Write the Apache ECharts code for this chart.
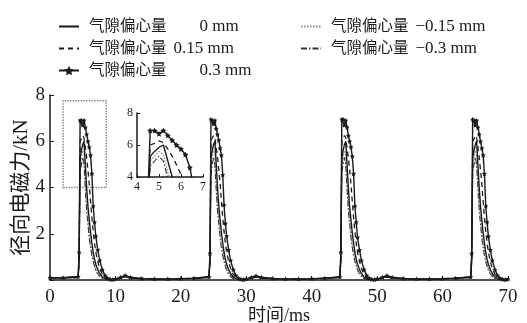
<!DOCTYPE html>
<html>
<head>
<meta charset="utf-8">
<script src="https://cdn.jsdelivr.net/npm/echarts@6/dist/echarts.min.js"></script>
<style>
  html, body { margin: 0; padding: 0; background: #fff; }
  #chart { width: 527px; height: 323px; }
</style>
</head>
<body>
<div id="chart"></div>
<script>
// Time samples (ms), shared by every curve
const timeMs = [
  0, 2, 4.3, 4.45, 4.6, 4.8, 5.0, 5.2, 5.4, 5.6, 5.8, 6.0, 6.2, 6.4, 6.6, 6.8, 7.0, 7.3, 7.6, 8.0, 8.4, 8.8, 9.2, 9.6, 10.0, 10.8, 11.5, 12.3, 14, 16, 18,
  20, 22, 24.3, 24.45, 24.6, 24.8, 25.0, 25.2, 25.4, 25.6, 25.8, 26.0, 26.2, 26.4, 26.6, 26.8, 27.0, 27.3, 27.6, 28.0, 28.4, 28.8, 29.2, 29.6, 30.0, 30.8, 31.5, 32.3, 34, 36, 38,
  40, 42, 44.3, 44.45, 44.6, 44.8, 45.0, 45.2, 45.4, 45.6, 45.8, 46.0, 46.2, 46.4, 46.6, 46.8, 47.0, 47.3, 47.6, 48.0, 48.4, 48.8, 49.2, 49.6, 50.0, 50.8, 51.5, 52.3, 54, 56, 58,
  60, 62, 64.3, 64.45, 64.6, 64.8, 65.0, 65.2, 65.4, 65.6, 65.8, 66.0, 66.2, 66.4, 66.6, 66.8, 67.0, 67.3, 67.6, 68.0, 68.4, 68.8, 69.2, 69.6, 70.0
];

// Radial electromagnetic force (kN) for each air-gap eccentricity
const force0 = [
  0.10, 0.10, 0.12, 0.90, 5.30, 5.60, 5.85, 6.00, 5.00, 4.00, 3.20, 2.60, 2.05, 1.60, 1.20, 0.90, 0.68, 0.45, 0.28, 0.13, 0.06, 0.02, 0.01, 0.01, 0.03, 0.09, 0.16, 0.09, 0.05, 0.04, 0.04,
  0.05, 0.07, 0.12, 0.85, 5.30, 5.60, 5.85, 6.00, 5.05, 4.00, 3.20, 2.60, 2.05, 1.60, 1.20, 0.90, 0.68, 0.45, 0.28, 0.13, 0.06, 0.02, 0.01, 0.01, 0.03, 0.09, 0.15, 0.09, 0.05, 0.04, 0.04,
  0.05, 0.07, 0.12, 0.90, 5.25, 5.60, 5.85, 6.00, 5.00, 4.00, 3.15, 2.60, 2.05, 1.60, 1.20, 0.90, 0.68, 0.45, 0.28, 0.13, 0.06, 0.02, 0.01, 0.01, 0.03, 0.09, 0.16, 0.09, 0.05, 0.04, 0.04,
  0.05, 0.07, 0.12, 0.85, 5.30, 5.60, 5.85, 6.00, 5.00, 4.00, 3.20, 2.60, 2.05, 1.60, 1.20, 0.90, 0.68, 0.45, 0.28, 0.13, 0.06, 0.02, 0.01, 0.01, 0.03
];
const forceP015 = [
  0.10, 0.10, 0.13, 1.00, 6.00, 6.10, 6.25, 6.15, 5.75, 5.30, 4.75, 4.15, 3.40, 2.70, 2.10, 1.60, 1.20, 0.80, 0.50, 0.25, 0.10, 0.04, 0.02, 0.02, 0.04, 0.10, 0.17, 0.10, 0.06, 0.04, 0.05,
  0.05, 0.08, 0.13, 0.95, 6.05, 6.10, 6.25, 6.15, 5.75, 5.30, 4.75, 4.15, 3.40, 2.70, 2.10, 1.60, 1.20, 0.80, 0.50, 0.25, 0.10, 0.04, 0.02, 0.02, 0.04, 0.10, 0.16, 0.10, 0.06, 0.04, 0.05,
  0.05, 0.08, 0.13, 1.00, 6.00, 6.10, 6.25, 6.15, 5.70, 5.30, 4.75, 4.15, 3.40, 2.70, 2.10, 1.60, 1.20, 0.80, 0.50, 0.25, 0.10, 0.04, 0.02, 0.02, 0.04, 0.10, 0.17, 0.10, 0.06, 0.04, 0.05,
  0.05, 0.08, 0.13, 0.95, 6.00, 6.10, 6.25, 6.15, 5.75, 5.30, 4.75, 4.15, 3.40, 2.70, 2.10, 1.60, 1.20, 0.80, 0.50, 0.25, 0.10, 0.04, 0.02, 0.02, 0.04
];
const forceP03 = [
  0.10, 0.10, 0.15, 1.20, 6.90, 6.90, 6.70, 6.90, 6.60, 6.30, 6.00, 5.75, 5.40, 4.60, 3.20, 2.50, 1.90, 1.30, 0.85, 0.45, 0.20, 0.08, 0.03, 0.02, 0.05, 0.12, 0.20, 0.12, 0.07, 0.05, 0.05,
  0.06, 0.08, 0.14, 1.15, 6.95, 6.90, 6.75, 6.90, 6.55, 6.30, 6.05, 5.70, 5.40, 4.55, 3.25, 2.45, 1.90, 1.30, 0.85, 0.45, 0.20, 0.08, 0.03, 0.02, 0.05, 0.12, 0.18, 0.12, 0.07, 0.05, 0.05,
  0.06, 0.08, 0.14, 1.20, 6.95, 6.95, 6.70, 6.90, 6.60, 6.25, 6.00, 5.75, 5.35, 4.60, 3.20, 2.50, 1.85, 1.30, 0.85, 0.45, 0.20, 0.08, 0.03, 0.02, 0.05, 0.12, 0.19, 0.12, 0.07, 0.05, 0.05,
  0.06, 0.08, 0.14, 1.15, 6.95, 6.90, 6.70, 6.90, 6.60, 6.30, 6.00, 5.70, 5.40, 4.60, 3.20, 2.50, 1.90, 1.30, 0.85, 0.45, 0.20, 0.08, 0.03, 0.02, 0.04
];
const forceN015 = [
  0.08, 0.08, 0.10, 0.80, 5.00, 5.30, 5.60, 5.40, 4.30, 3.40, 2.70, 2.10, 1.60, 1.25, 0.95, 0.70, 0.50, 0.32, 0.20, 0.08, 0.03, 0.01, 0.00, 0.00, 0.02, 0.08, 0.14, 0.08, 0.04, 0.03, 0.03,
  0.04, 0.06, 0.10, 0.75, 5.00, 5.30, 5.60, 5.40, 4.30, 3.40, 2.70, 2.10, 1.60, 1.25, 0.95, 0.70, 0.50, 0.32, 0.20, 0.08, 0.03, 0.01, 0.00, 0.00, 0.02, 0.08, 0.13, 0.08, 0.04, 0.03, 0.03,
  0.04, 0.06, 0.10, 0.80, 4.95, 5.30, 5.60, 5.40, 4.30, 3.40, 2.70, 2.10, 1.60, 1.25, 0.95, 0.70, 0.50, 0.32, 0.20, 0.08, 0.03, 0.01, 0.00, 0.00, 0.02, 0.08, 0.14, 0.08, 0.04, 0.03, 0.03,
  0.04, 0.06, 0.10, 0.75, 5.00, 5.30, 5.60, 5.40, 4.30, 3.40, 2.70, 2.10, 1.60, 1.25, 0.95, 0.70, 0.50, 0.32, 0.20, 0.08, 0.03, 0.01, 0.00, 0.00, 0.02
];
const forceN03 = [
  0.08, 0.08, 0.10, 0.70, 4.70, 5.00, 5.30, 5.00, 3.90, 3.00, 2.40, 1.80, 1.40, 1.05, 0.80, 0.60, 0.42, 0.26, 0.15, 0.06, 0.02, 0.00, 0.00, 0.00, 0.02, 0.07, 0.13, 0.07, 0.04, 0.03, 0.03,
  0.04, 0.06, 0.10, 0.70, 4.70, 5.00, 5.30, 5.00, 3.90, 3.00, 2.40, 1.80, 1.40, 1.05, 0.80, 0.60, 0.42, 0.26, 0.15, 0.06, 0.02, 0.00, 0.00, 0.00, 0.02, 0.07, 0.12, 0.07, 0.04, 0.03, 0.03,
  0.04, 0.06, 0.10, 0.65, 4.70, 5.00, 5.30, 5.00, 3.90, 3.00, 2.40, 1.80, 1.40, 1.05, 0.80, 0.60, 0.42, 0.26, 0.15, 0.06, 0.02, 0.00, 0.00, 0.00, 0.02, 0.07, 0.13, 0.07, 0.04, 0.03, 0.03,
  0.04, 0.06, 0.10, 0.70, 4.70, 5.00, 5.30, 5.00, 3.90, 3.00, 2.40, 1.80, 1.40, 1.05, 0.80, 0.60, 0.42, 0.26, 0.15, 0.06, 0.02, 0.00, 0.00, 0.00, 0.02
];

const seriesLabel = '气隙偏心量';
const eccentricity = ['0', '0.15', '0.3', '−0.15', '−0.3'];
const seriesNames = eccentricity.map(e => seriesLabel + ' ' + e + ' mm');
const xTicks = [0, 10, 20, 30, 40, 50, 60, 70];
const yTicks = [2, 4, 6, 8];
const insetXTicks = [4, 5, 6, 7];
const insetYTicks = [4, 6, 8];

const FONT = "'Liberation Serif', 'Noto Sans CJK SC', serif";
const INK = '#1a1a1a';
const STAR = 'path://M0,-10 L2.9,-4 L9.5,-3.1 L4.7,1.5 L5.9,8.1 L0,5 L-5.9,8.1 L-4.7,1.5 L-9.5,-3.1 L-2.9,-4 Z';

const toPairs = vals => timeMs.map((t, i) => [t, vals[i]]);

const curveDefs = [
  { name: seriesNames[3], vals: forceN015, line: { color: '#8a8a8a', width: 1.2, type: [1.5, 1.5] }, symbol: 'none' },
  { name: seriesNames[4], vals: forceN03, line: { color: '#333', width: 1.1, type: [6, 2, 1.5, 2] }, symbol: 'none' },
  { name: seriesNames[0], vals: force0, line: { color: INK, width: 1.4, type: 'solid' }, symbol: 'none' },
  { name: seriesNames[1], vals: forceP015, line: { color: INK, width: 1.3, type: [5, 4] }, symbol: 'none' },
  { name: seriesNames[2], vals: forceP03, line: { color: INK, width: 1.4, type: 'solid' }, symbol: STAR }
];

// Region of the main plot that the inset enlarges
const zoomBox = { x: [2, 8.6], y: [4, 7.75] };

const series = [];
curveDefs.forEach((c, k) => {
  const base = {
    name: c.name,
    type: 'line',
    data: toPairs(c.vals),
    lineStyle: c.line,
    itemStyle: { color: c.line.color },
    symbol: c.symbol,
    symbolSize: 5,
    showSymbol: c.symbol !== 'none',
    clip: true,
    silent: true,
    z: 2 + k
  };
  const main = Object.assign({}, base, { xAxisIndex: 0, yAxisIndex: 0 });
  if (k === 0) {
    main.markArea = {
      silent: true,
      itemStyle: { color: 'rgba(0,0,0,0)', borderColor: '#8a8a8a', borderWidth: 1.5, borderType: [1.5, 1.2] },
      data: [[{ coord: [zoomBox.x[0], zoomBox.y[0]] }, { coord: [zoomBox.x[1], zoomBox.y[1]] }]]
    };
  }
  series.push(main);
  series.push(Object.assign({}, base, { xAxisIndex: 1, yAxisIndex: 1, symbolSize: 6 }));
});

// Line-only curves get a bare line in the legend, the star curve keeps its marker
const legendItem = name => (name === seriesNames[2] ? { name: name } : { name: name, itemStyle: { opacity: 0 } });

// Legend text: Chinese label slightly smaller than the value, with a wider gap on the 0 and 0.3 rows
const wideGap = [seriesNames[0], seriesNames[2]];
const legendFormatter = name => {
  const value = name.slice(seriesLabel.length + 1);
  return '{c|' + seriesLabel + '}{' + (wideGap.indexOf(name) >= 0 ? 'gw' : 'g') + '|}{v|' + value + '}';
};

const legendBase = {
  orient: 'vertical',
  top: 13,
  itemGap: 5,
  itemWidth: 20,
  itemHeight: 12,
  selectedMode: false,
  formatter: legendFormatter,
  textStyle: {
    fontFamily: FONT, fontSize: 17, color: INK, lineHeight: 17, padding: [0, 0, 0, 5],
    rich: {
      c: { fontFamily: FONT, fontSize: 15.5, color: INK, lineHeight: 17 },
      g: { width: 7, lineHeight: 17 },
      gw: { width: 33, lineHeight: 17 },
      v: { fontFamily: FONT, fontSize: 17, color: INK, lineHeight: 17 }
    }
  }
};

const chart = echarts.init(document.getElementById('chart'), null, { renderer: 'canvas' });
chart.setOption({
  animation: false,
  backgroundColor: '#fff',
  legend: [
    Object.assign({}, legendBase, { left: 53, data: [seriesNames[0], seriesNames[1], seriesNames[2]].map(legendItem) }),
    Object.assign({}, legendBase, { left: 295, data: [seriesNames[3], seriesNames[4]].map(legendItem) })
  ],
  grid: [
    { left: 50, top: 95, width: 458, height: 185, outerBoundsMode: 'none' },
    { left: 137, top: 113, width: 66, height: 64, outerBoundsMode: 'none' }
  ],
  xAxis: [
    {
      type: 'value', gridIndex: 0, min: xTicks[0], max: xTicks[xTicks.length - 1], interval: 10,
      name: '时间/ms', nameLocation: 'middle', nameGap: 27, nameMoveOverlap: false,
      nameTextStyle: { fontFamily: FONT, fontSize: 18, color: INK, verticalAlign: 'top' },
      axisLine: { lineStyle: { color: INK, width: 1.5 } },
      axisTick: { inside: true, length: 4, lineStyle: { color: INK } },
      axisLabel: { fontFamily: FONT, fontSize: 19, color: INK, margin: 8 },
      splitLine: { show: false }
    },
    {
      type: 'value', gridIndex: 1, min: insetXTicks[0], max: insetXTicks[insetXTicks.length - 1], interval: 1,
      axisLine: { lineStyle: { color: INK, width: 1.5 } },
      axisTick: { inside: true, length: 3, lineStyle: { color: INK } },
      axisLabel: { fontFamily: FONT, fontSize: 12, color: INK, margin: 4 },
      splitLine: { show: false }
    }
  ],
  yAxis: [
    {
      type: 'value', gridIndex: 0, min: 0, max: yTicks[yTicks.length - 1], interval: 2,
      name: '径向电磁力/kN', nameLocation: 'middle', nameGap: 18, nameMoveOverlap: false,
      nameTextStyle: { fontFamily: FONT, fontSize: 21, color: INK },
      axisLine: { show: true, lineStyle: { color: INK, width: 1.5 } },
      axisTick: { show: true, inside: true, length: 4, lineStyle: { color: INK } },
      axisLabel: {
        fontFamily: FONT, fontSize: 19, color: INK, margin: 5,
        formatter: v => (yTicks.indexOf(v) >= 0 ? String(v) : '')
      },
      splitLine: { show: false }
    },
    {
      type: 'value', gridIndex: 1, min: insetYTicks[0], max: insetYTicks[insetYTicks.length - 1], interval: 2,
      axisLine: { show: true, lineStyle: { color: INK, width: 1.5 } },
      axisTick: { show: true, inside: true, length: 3, lineStyle: { color: INK } },
      axisLabel: { fontFamily: FONT, fontSize: 12, color: INK, margin: 4 },
      splitLine: { show: false }
    }
  ],
  series: series
});
</script>
</body>
</html>
